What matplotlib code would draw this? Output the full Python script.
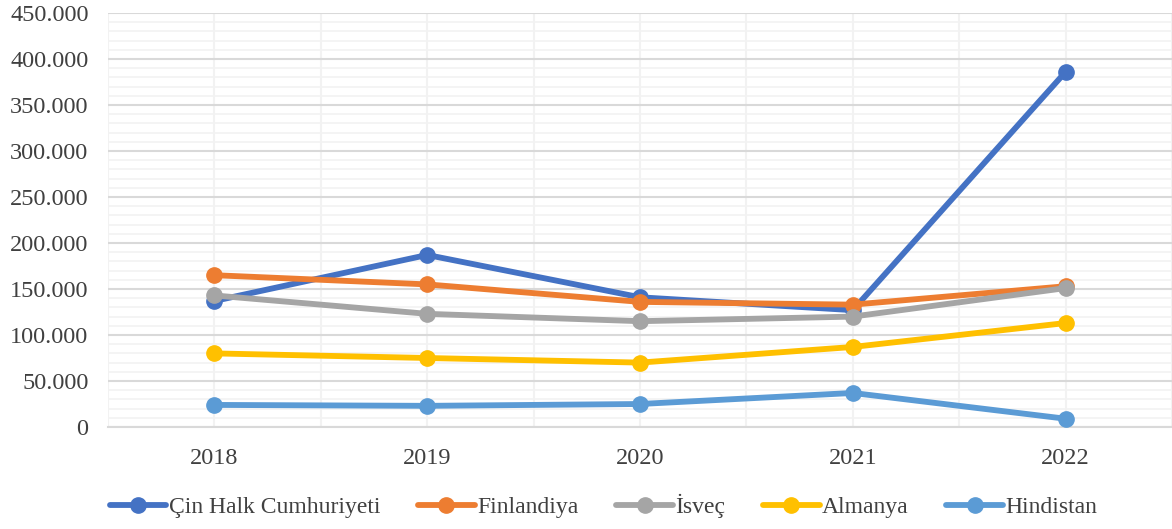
import matplotlib.pyplot as plt
import numpy as np
from matplotlib.ticker import FuncFormatter, MultipleLocator

years = ['2018', '2019', '2020', '2021', '2022']
cin = [137000, 187000, 141000, 127000, 386000]
finlandiya = [165000, 155000, 136000, 133000, 153000]
isvec = [143000, 123000, 115000, 120000, 151000]
almanya = [80000, 75000, 70000, 87000, 113000]
hindistan = [24000, 23000, 25000, 37000, 9000]

series = [
    ('Çin Halk Cumhuriyeti', cin, '#4472C4'),
    ('Finlandiya', finlandiya, '#ED7D31'),
    ('İsveç', isvec, '#A5A5A5'),
    ('Almanya', almanya, '#FFC000'),
    ('Hindistan', hindistan, '#5B9BD5'),
]

plt.rcParams['font.family'] = ['Liberation Serif', 'DejaVu Serif']

fig = plt.figure(figsize=(11.72, 5.29), dpi=100)
ax = fig.add_axes([108 / 1172, 1 - 427 / 529, (1172 - 108) / 1172, (427 - 13) / 529])

x = np.arange(len(years))
for name, vals, color in series:
    ax.plot(x, vals, color=color, linewidth=4.2, marker='o', markersize=11,
            label=name, solid_capstyle='round', zorder=3)

ax.set_xlim(-0.5, len(years) - 0.5)
ax.set_ylim(0, 450000)
ax.set_xticks(x)
ax.set_xticklabels(years)
ax.yaxis.set_major_locator(MultipleLocator(50000))
ax.yaxis.set_minor_locator(MultipleLocator(10000))
ax.xaxis.set_minor_locator(MultipleLocator(0.5))
ax.yaxis.set_major_formatter(FuncFormatter(lambda v, p: f'{int(v):,}'.replace(',', '.')))

ax.grid(which='major', axis='y', color='#D9D9D9', linewidth=1.5, zorder=0)
ax.grid(which='minor', axis='y', color='#F2F2F2', linewidth=1.2, zorder=0)
ax.grid(which='both', axis='x', color='#F2F2F2', linewidth=1.5, zorder=0)

for s in ['top', 'right', 'left']:
    ax.spines[s].set_visible(False)
ax.spines['bottom'].set_color('#D9D9D9')
ax.spines['bottom'].set_linewidth(1.5)

ax.tick_params(which='both', length=0, labelsize=17.5, colors='#404040')
ax.tick_params(axis='x', pad=15)
ax.tick_params(axis='y', pad=14)

fig.legend(loc='center', bbox_to_anchor=(0.515, 0.043), ncol=5, frameon=False,
           fontsize=17, handlelength=2.4, handletextpad=0.1, columnspacing=1.6,
           labelcolor='#404040')

fig.savefig('out.png', dpi=100)
